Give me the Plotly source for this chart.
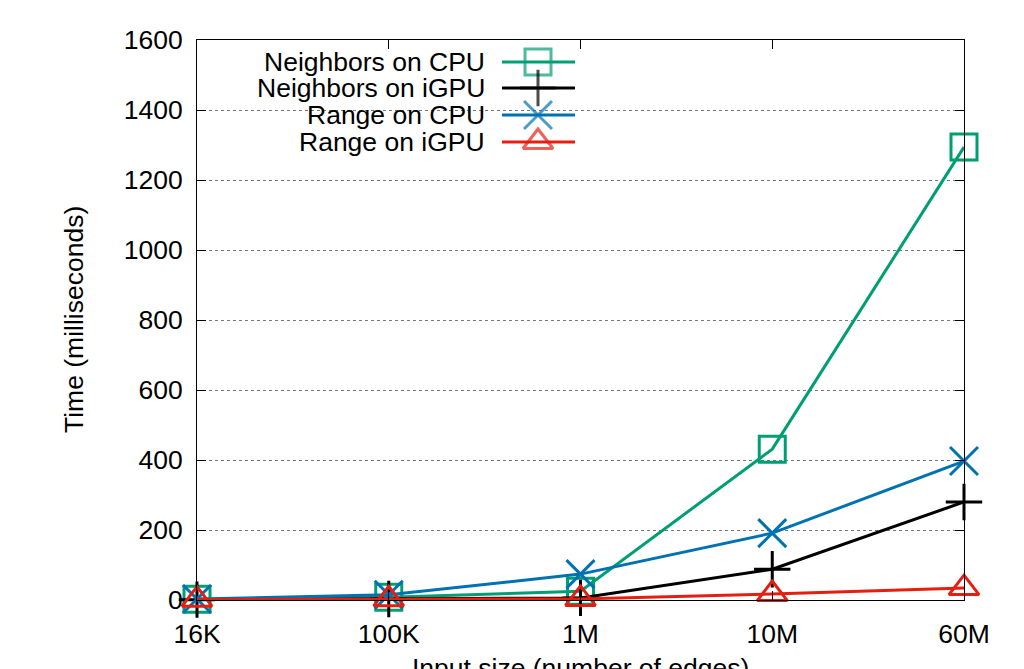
import plotly.graph_objects as go

categories = ["16K", "100K", "1M", "10M", "60M"]
neighbors_cpu = [2, 8, 25, 431, 1294]
neighbors_igpu = [1, 3, 6, 88, 280]
range_cpu = [3, 15, 74, 191, 397]
range_igpu = [1, 2, 3, 17, 34]

series = [
    ("Neighbors on CPU", neighbors_cpu, "#009e73", "square-open", 26),
    ("Neighbors on iGPU", neighbors_igpu, "#000000", "cross-thin-open", 26),
    ("Range on CPU", range_cpu, "#0072b2", "x-thin-open", 28),
    ("Range on iGPU", range_igpu, "#e51e10", "triangle-up-open", 26),
]

FONT = "Liberation Sans, Arial, sans-serif"
FS = 26.5
OFF = 8  # browser default body margin
W, H = 1024 - OFF, 669 - OFF
L, T = 197 - OFF, 40 - OFF
PW, PH = 767, 560
R, B = W - L - PW, H - T - PH

fig = go.Figure()
for name, vals, color, sym, size in series:
    fig.add_trace(go.Scatter(
        x=categories, y=vals, mode="lines+markers", name=name,
        line=dict(color=color, width=3),
        marker=dict(symbol=sym, size=size, color=color, line=dict(color=color, width=3)),
        cliponaxis=False, showlegend=False,
    ))

# custom gnuplot-style legend (text right, sample on the right); page-pixel positions
rows_py = [62, 88, 115, 142]
annotations = []
for (name, vals, color, sym, size), py in zip(series, rows_py):
    yv = PH - (py - 40)
    fig.add_trace(go.Scatter(
        x=[502 - 197, 538 - 197, 575 - 197], y=[yv, yv, yv], xaxis="x2", yaxis="y2",
        mode="lines+markers", showlegend=False, hoverinfo="skip",
        line=dict(color=color, width=3),
        marker=dict(symbol=sym, size=[0, size, 0], color=color, line=dict(color=color, width=3)),
        cliponaxis=False,
    ))
    annotations.append(dict(
        x=(487 - 197) / PW, y=yv / PH, xref="paper", yref="paper",
        text=name, showarrow=False, xanchor="right", yanchor="middle",
        font=dict(family=FONT, size=FS, color="black"),
    ))

# axis titles
annotations.append(dict(
    x=(580 - 197) / PW, y=(600 - 668) / PH, xref="paper", yref="paper",
    text="Input size (number of edges)", showarrow=False,
    xanchor="center", yanchor="middle",
    font=dict(family=FONT, size=FS, color="black"),
))
annotations.append(dict(
    x=(74 - 197) / PW, y=0.5, xref="paper", yref="paper",
    text="Time (milliseconds)", showarrow=False, textangle=-90,
    xanchor="center", yanchor="middle",
    font=dict(family=FONT, size=FS, color="black"),
))

fig.update_layout(
    width=W, height=H,
    margin=dict(l=L, r=R, t=T, b=B, autoexpand=False),
    paper_bgcolor="white", plot_bgcolor="white",
    font=dict(family=FONT, size=FS, color="black"),
    annotations=annotations,
    xaxis=dict(
        type="category", range=[0, 4], showgrid=False, automargin=False,
        ticks="inside", ticklen=9, tickwidth=1, tickcolor="black",
        mirror="ticks", showline=True, linecolor="black", linewidth=1,
        tickfont=dict(family=FONT, size=FS), ticklabelstandoff=10,
        zeroline=False,
    ),
    yaxis=dict(
        range=[0, 1600], dtick=200, showgrid=True, automargin=False,
        gridcolor="#777777", griddash="dot", gridwidth=1,
        ticks="inside", ticklen=9, tickwidth=1, tickcolor="black",
        mirror="ticks", showline=True, linecolor="black", linewidth=1,
        tickfont=dict(family=FONT, size=FS), ticklabelstandoff=8,
        zeroline=False,
    ),
    xaxis2=dict(overlaying="x", range=[0, PW], visible=False),
    yaxis2=dict(overlaying="y", range=[0, PH], visible=False),
)

fig.write_html("out.html")
